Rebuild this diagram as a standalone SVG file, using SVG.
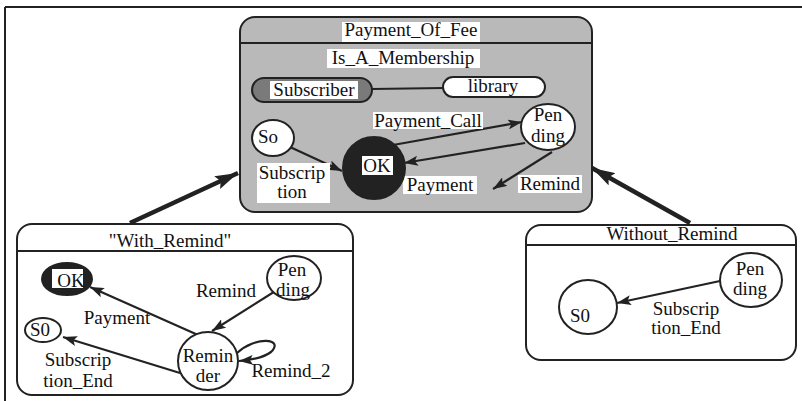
<svg xmlns="http://www.w3.org/2000/svg" width="802" height="401" viewBox="0 0 802 401">
<defs>
<style>
text{font-family:"Liberation Serif","Times New Roman",serif;font-size:19px;fill:#111;text-anchor:middle}
.box{stroke:#222;stroke-width:2}
.st{fill:#fff;stroke:#222;stroke-width:2}
.dark{fill:#222;stroke:#222;stroke-width:2}
.bg{fill:#fff;stroke:none}
.e{fill:none;stroke:#222;stroke-width:2.2;marker-end:url(#ah)}
.big{fill:none;stroke:#222;stroke-width:4.5;marker-end:url(#bh)}
.ln{fill:none;stroke:#222;stroke-width:2}
</style>
<marker id="ah" markerUnits="userSpaceOnUse" markerWidth="15" markerHeight="10" refX="14" refY="5" orient="auto"><path d="M0,0 L14,5 L0,10 L3,5 z" fill="#222"/></marker>
<marker id="bh" markerUnits="userSpaceOnUse" markerWidth="24" markerHeight="14" refX="23" refY="7" orient="auto"><path d="M0,0 L23,7 L0,14 L4,7 z" fill="#222"/></marker>
</defs>
<g id="frame">
<line x1="5" y1="7" x2="802" y2="7" class="ln"/>
<line x1="5" y1="7" x2="5" y2="401" class="ln"/>
</g>
<g id="Payment_Of_Fee">
<rect x="240" y="17" width="352" height="195" rx="15" fill="#b9b9b9" class="box"/>
<line x1="240" y1="43" x2="592" y2="43" class="ln"/>
<rect x="342" y="22" width="138" height="20" class="bg"/>
<text x="411" y="36">Payment_Of_Fee</text>
<rect x="327" y="49" width="153" height="19" class="bg"/>
<text x="403" y="64">Is_A_Membership</text>
</g>
<g id="With_Remind">
<rect x="17" y="224" width="336" height="171" rx="15" fill="#fff" class="box"/>
<line x1="17" y1="251" x2="353" y2="251" class="ln"/>
<text x="170" y="247">"With_Remind"</text>
</g>
<g id="Without_Remind">
<rect x="526" y="225" width="270" height="135" rx="15" fill="#fff" class="box"/>
<line x1="526" y1="245" x2="796" y2="245" class="ln"/>
<text x="672" y="240">Without_Remind</text>
</g>
<g id="connectors">
<line x1="130" y1="223" x2="238" y2="173" class="big"/>
<line x1="690" y1="223" x2="592" y2="168" class="big"/>
<line x1="372" y1="89" x2="443" y2="88" class="ln"/>
<line x1="290" y1="147" x2="342" y2="171" class="e"/>
<line x1="393" y1="145" x2="522" y2="122" class="e"/>
<line x1="525" y1="143" x2="404" y2="163" class="e"/>
<line x1="552" y1="152" x2="493" y2="189" class="e"/>
<line x1="198" y1="335" x2="90" y2="287" class="e"/>
<line x1="277" y1="290" x2="212" y2="331" class="e"/>
<line x1="180" y1="373" x2="63" y2="337" class="e"/>
<path d="M237,353 C255,336 285,338 271,352 C263,358 252,360 239,361" class="e"/>
<line x1="720" y1="281" x2="617" y2="303" class="e"/>
</g>
<g id="labels">
<rect x="373" y="112" width="110" height="17" class="bg"/>
<text x="428" y="127">Payment_Call</text>
<rect x="403" y="176" width="74" height="18" class="bg"/>
<text x="440" y="191">Payment</text>
<rect x="518" y="175" width="64" height="18" class="bg"/>
<text x="550" y="190">Remind</text>
<rect x="257" y="163" width="73" height="40" class="bg"/>
<text x="292" y="179">Subscrip</text>
<text x="292" y="198">tion</text>
<text x="117" y="324">Payment</text>
<text x="226" y="297">Remind</text>
<text x="78" y="366">Subscrip</text>
<text x="78" y="387">tion_End</text>
<text x="291" y="377">Remind_2</text>
<text x="686" y="315">Subscrip</text>
<text x="686" y="334">tion_End</text>
</g>
<g id="Subscriber">
<rect x="252" y="78" width="120" height="24" rx="12" fill="#7a7a7a" class="box"/>
<rect x="270" y="81" width="88" height="18" class="bg"/>
<text x="314" y="96">Subscriber</text>
</g>
<g id="library">
<rect x="443" y="77" width="102" height="20" rx="10" class="st"/>
<text x="493" y="92">library</text>
</g>
<g id="So">
<ellipse cx="273" cy="138" rx="21" ry="18" class="st"/>
<text x="268" y="143">So</text>
</g>
<g id="OK_fee">
<circle cx="374" cy="168" r="31" class="dark"/>
<rect x="362" y="156" width="31" height="19" class="bg"/>
<text x="377" y="172">OK</text>
</g>
<g id="Pending_fee">
<ellipse cx="548" cy="127" rx="27" ry="23" class="st"/>
<text x="548" y="121">Pen</text>
<text x="548" y="142">ding</text>
</g>
<g id="OK_with">
<ellipse cx="67" cy="279" rx="25" ry="16" class="dark"/>
<rect x="52" y="269" width="31" height="19" class="bg"/>
<text x="71" y="287">OK</text>
</g>
<g id="Pending_with">
<ellipse cx="294" cy="278" rx="27" ry="22" class="st"/>
<text x="292" y="276">Pen</text>
<text x="293" y="296">ding</text>
</g>
<g id="S0_with">
<ellipse cx="43" cy="330" rx="18" ry="12" class="st"/>
<text x="40" y="336">S0</text>
</g>
<g id="Reminder">
<ellipse cx="208" cy="361" rx="30" ry="29" class="st"/>
<text x="208" y="362">Remin</text>
<text x="208" y="382">der</text>
</g>
<g id="Pending_without">
<ellipse cx="751" cy="280" rx="31" ry="27" class="st"/>
<text x="750" y="275">Pen</text>
<text x="750" y="295">ding</text>
</g>
<g id="S0_without">
<ellipse cx="588" cy="307" rx="29" ry="27" class="st"/>
<text x="580" y="322">S0</text>
</g>
</svg>
